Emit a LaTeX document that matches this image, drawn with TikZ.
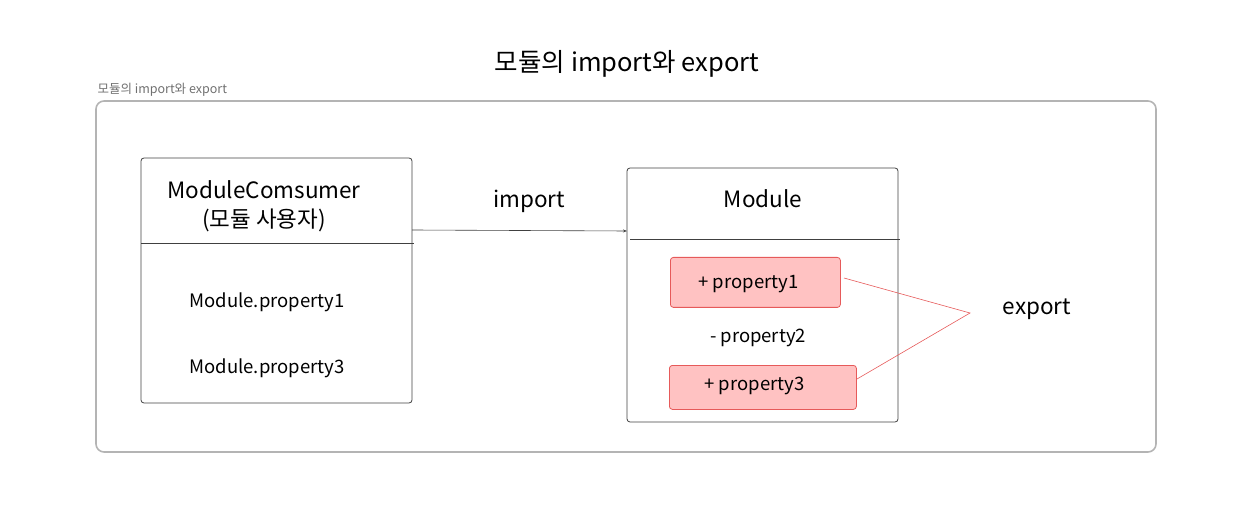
\documentclass[tikz,border=0pt]{standalone}
\usepackage{fontspec}
\setmainfont{Noto Sans CJK KR}
\usetikzlibrary{arrows.meta}
\definecolor{frame}{HTML}{B4B4B4}
\definecolor{pinkfill}{HTML}{FFC2C2}
\definecolor{redline}{HTML}{E65A5A}
\definecolor{graytext}{HTML}{707070}
\tikzset{
  box/.style={draw=black!75, line width=0.8pt, rounded corners=3pt},
  prop/.style={draw=redline, fill=pinkfill, line width=0.8pt, rounded corners=3pt},
  hand/.style={font=\fontsize{22.5}{29}\selectfont, text=black},
  label/.style={font=\fontsize{18.5}{22}\selectfont, text=black},
  redconn/.style={draw=redline, line width=0.6pt},
}
\begin{document}
\begin{tikzpicture}[x=1pt,y=-1pt]
\useasboundingbox (0,0) rectangle (1247,518);
% title
\node[font=\fontsize{25.5}{30}\selectfont] (title) at (627,64) {모듈의 import와 export};
\node[anchor=west, font=\fontsize{12.5}{14}\selectfont, text=graytext] (frametitle) at (94,90) {모듈의 import와 export};
% outer frame
\draw[draw=frame, line width=1.6pt, rounded corners=8pt] (96,101) rectangle (1156,452);
% left box
\draw[box] (141,158) rectangle (412,403);
\coordinate (ldl) at (141,243);
\coordinate (ldr) at (414,243);
\draw[draw=black!75, line width=0.8pt] (ldl) -- (ldr);
\node[hand, align=center] (consumer) at (264,206) {ModuleComsumer\\(모듈 사용자)};
\node[label, anchor=west] (mp1) at (186,302) {Module.property1};
\node[label, anchor=west] (mp3) at (186,368) {Module.property3};
% right box
\draw[box] (627,168) rectangle (898,422);
\coordinate (rdl) at (630,239);
\coordinate (rdr) at (900,239);
\draw[draw=black!75, line width=0.8pt] (rdl) -- (rdr);
\node[hand] (module) at (763,199) {Module};
\node[prop, minimum width=170pt, minimum height=50pt, anchor=north west] (p1) at (670,257) {};
\node[label, anchor=west] (p1t) at (695,284) {+ property1};
\node[label] (p2) at (758,338) {- property2};
\node[prop, minimum width=187pt, minimum height=44pt, anchor=north west] (p3) at (669,365) {};
\node[label, anchor=west] (p3t) at (701,386) {+ property3};
% import arrow
\coordinate (imps) at (412,230);
\coordinate (impe) at (627,231);
\draw[black!75, line width=0.6pt, -{Stealth[length=4pt,width=3pt]}] (imps) -- (impe);
\node[hand] (import) at (529,201) {import};
% export
\coordinate (ex) at (970,313);
\coordinate (e1) at (844,278);
\coordinate (e3) at (857,379);
\draw[redconn] (e1) -- (ex) -- (e3);
\node[hand] (export) at (1037,309) {export};
\end{tikzpicture}
\end{document}
